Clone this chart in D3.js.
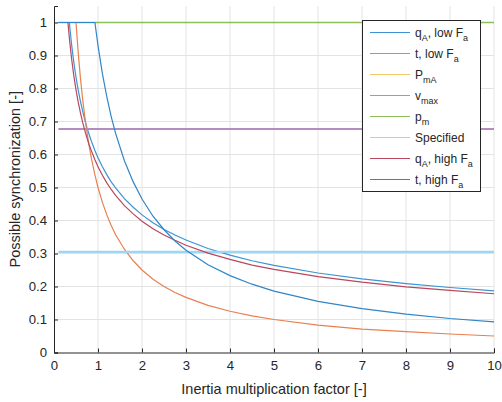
<!DOCTYPE html>
<html>
<head>
<meta charset="utf-8">
<script src="https://cdn.jsdelivr.net/npm/d3@7"></script>
<style>
  html, body { margin: 0; padding: 0; background: #fff; }
  svg { display: block; font-family: "Liberation Sans", Arial, sans-serif; }
</style>
</head>
<body>
<div id="chart"></div>
<script>
// ---- data ----
const xs = [0.1, 0.317, 0.348, 0.4, 0.45, 0.5, 0.55, 0.6, 0.65, 0.7, 0.75, 0.8, 0.85, 0.93, 1, 1.1, 1.2, 1.3, 1.4, 1.6, 1.8, 2, 2.25, 2.5, 2.75, 3, 3.5, 4, 4.5, 5, 6, 7, 8, 9, 10];
const qALow = [1, 1, 1, 0.933, 0.880, 0.834, 0.796, 0.762, 0.732, 0.705, 0.681, 0.660, 0.640, 0.612, 0.590, 0.563, 0.539, 0.517, 0.499, 0.466, 0.440, 0.417, 0.393, 0.373, 0.356, 0.341, 0.315, 0.295, 0.278, 0.264, 0.241, 0.223, 0.209, 0.197, 0.187];
const tLow = [1, 1, 1, 1, 1, 1, 0.909, 0.833, 0.769, 0.714, 0.667, 0.625, 0.588, 0.538, 0.5, 0.455, 0.417, 0.385, 0.357, 0.313, 0.278, 0.25, 0.222, 0.2, 0.182, 0.167, 0.143, 0.125, 0.111, 0.1, 0.083, 0.071, 0.063, 0.056, 0.05];
const qAHigh = [1, 1, 0.954, 0.890, 0.839, 0.796, 0.759, 0.727, 0.698, 0.673, 0.650, 0.629, 0.611, 0.584, 0.563, 0.537, 0.514, 0.494, 0.476, 0.445, 0.420, 0.398, 0.375, 0.356, 0.340, 0.325, 0.301, 0.282, 0.265, 0.252, 0.230, 0.213, 0.199, 0.188, 0.178];
const tHigh = [1, 1, 1, 1, 1, 1, 1, 1, 1, 1, 1, 1, 1, 1, 0.93, 0.845, 0.775, 0.715, 0.664, 0.581, 0.517, 0.465, 0.413, 0.372, 0.338, 0.31, 0.266, 0.233, 0.207, 0.186, 0.155, 0.133, 0.116, 0.103, 0.093];
const constX = [0.1, 10];
const PmA = [1, 1];
const vMax = [0.677, 0.677];
const pM = [1, 1];
const specified = [0.305, 0.305];
const xTicks = [0, 1, 2, 3, 4, 5, 6, 7, 8, 9, 10];
const yTicks = [0, 0.1, 0.2, 0.3, 0.4, 0.5, 0.6, 0.7, 0.8, 0.9, 1];

// legend: alternating normal / subscript parts
const series = [
  { parts: ["q", "A", ", low F", "a"], x: xs, y: qALow, color: "#3d93d3", w: 1.2 },
  { parts: ["t, low F", "a"], x: xs, y: tLow, color: "#e8804f", w: 1.2 },
  { parts: ["P", "mA"], x: constX, y: PmA, color: "#f2c96a", w: 1.2 },
  { parts: ["v", "max"], x: constX, y: vMax, color: "#b58cc0", w: 2 },
  { parts: ["p", "m"], x: constX, y: pM, color: "#8fbf5a", w: 1.5 },
  { parts: ["Specified"], x: constX, y: specified, color: "#9dd6ee", w: 2.2 },
  { parts: ["q", "A", ", high F", "a"], x: xs, y: qAHigh, color: "#b9475d", w: 1.2 },
  { parts: ["t, high F", "a"], x: xs, y: tHigh, color: "#2f86c9", w: 1.2 }
];

// ---- layout ----
const W = 502, H = 402;
const FONT = "Liberation Sans, Arial, sans-serif";
const m = { left: 54, right: 8, top: 6, bottom: 49.5 };
const svg = d3.select("#chart").append("svg").attr("width", W).attr("height", H);

const x = d3.scaleLinear().domain([0, 10]).range([m.left, W - m.right]);
const y = d3.scaleLinear().domain([0, 1.05]).range([H - m.bottom, m.top]);
const axisColor = "#262626";

// grid
svg.append("g").selectAll("line").data(xTicks.slice(1)).join("line")
  .attr("x1", d => x(d)).attr("x2", d => x(d))
  .attr("y1", y(0)).attr("y2", y(1.05))
  .attr("stroke", "#e3e3e3").attr("stroke-width", 1);
svg.append("g").selectAll("line").data(yTicks.slice(1)).join("line")
  .attr("x1", x(0)).attr("x2", x(10))
  .attr("y1", d => y(d)).attr("y2", d => y(d))
  .attr("stroke", "#e3e3e3").attr("stroke-width", 1);

// lines
const line = d3.line().x(d => x(d[0])).y(d => y(d[1]));
series.forEach(s => {
  svg.append("path")
    .datum(s.x.map((v, i) => [v, s.y[i]]))
    .attr("d", line)
    .attr("fill", "none")
    .attr("stroke", s.color)
    .attr("stroke-width", s.w);
});

// axes
const xAxis = d3.axisBottom(x).tickValues(xTicks).tickSize(-4).tickPadding(7).tickFormat(d3.format("d"));
const yAxis = d3.axisLeft(y).tickValues(yTicks).tickSize(-4).tickPadding(7).tickFormat(d => d === 0 ? "0" : d === 1 ? "1" : d3.format(".1f")(d));
const gx = svg.append("g").attr("transform", `translate(0,${y(0)})`).call(xAxis);
const gy = svg.append("g").attr("transform", `translate(${x(0)},0)`).call(yAxis);
[gx, gy].forEach(g => {
  g.select(".domain").attr("stroke", axisColor);
  g.selectAll(".tick line").attr("stroke", axisColor);
  g.selectAll(".tick text").attr("fill", axisColor).attr("font-size", 13.2).attr("font-family", FONT);
});
gx.selectAll(".tick text").attr("dy", "0.8em");

// axis labels
svg.append("text").attr("x", x(5)).attr("y", 390).attr("text-anchor", "middle")
  .attr("dominant-baseline", "middle").attr("font-size", 14.5).attr("font-family", FONT).attr("fill", axisColor)
  .text("Inertia multiplication factor [-]");
svg.append("text").attr("transform", `translate(16,${(y(0) + y(1.05)) / 2}) rotate(-90)`)
  .attr("text-anchor", "middle").attr("dominant-baseline", "middle")
  .attr("font-size", 14.5).attr("font-family", FONT).attr("fill", axisColor)
  .text("Possible synchronization [-]");

// legend
const lg = svg.append("g");
lg.append("rect").attr("x", 362.5).attr("y", 20.5).attr("width", 118).attr("height", 171)
  .attr("fill", "#fff").attr("stroke", axisColor).attr("stroke-width", 1);
series.forEach((s, i) => {
  const cy = 32.5 + i * 21;
  lg.append("line").attr("x1", 370).attr("x2", 410).attr("y1", cy).attr("y2", cy)
    .attr("stroke", s.color).attr("stroke-width", 1.2);
  const t = lg.append("text").attr("x", 415).attr("y", cy + 4).attr("font-size", 12)
    .attr("font-family", FONT).attr("fill", axisColor);
  s.parts.forEach((p, j) => {
    const isSub = j % 2 === 1;
    t.append("tspan").attr("font-size", isSub ? 9 : 12)
      .attr("dy", isSub ? 4 : (j > 0 ? -4 : 0))
      .text(p);
  });
});
</script>
</body>
</html>
